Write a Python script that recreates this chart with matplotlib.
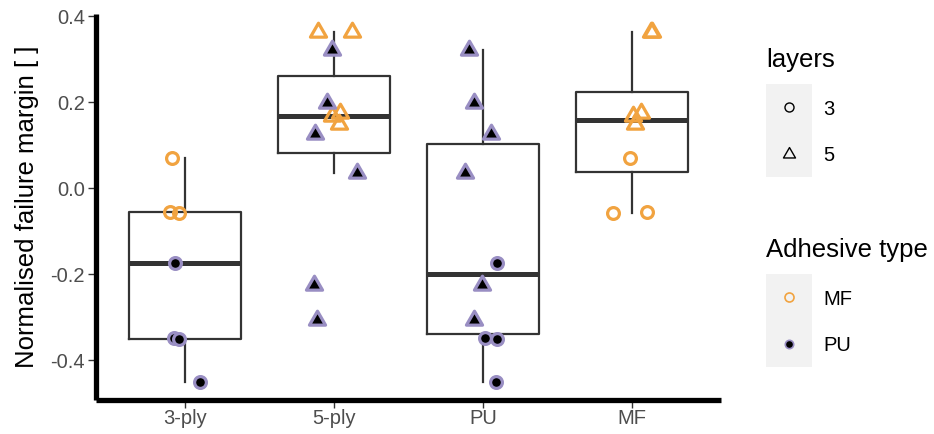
import numpy as np
import matplotlib
matplotlib.use("Agg")
import matplotlib.pyplot as plt
from matplotlib.path import Path
from matplotlib.markers import MarkerStyle
from matplotlib.patches import Rectangle

plt.rcParams['font.family'] = ['Liberation Sans', 'DejaVu Sans']

# ---- data -----------------------------------------------------------------
groups = ["3-ply", "5-ply", "PU", "MF"]

# normalised failure margin of each specimen, by adhesive and number of layers
mf_3 = [0.070, -0.055, -0.057]
pu_3 = [-0.174, -0.349, -0.352, -0.451]
mf_5 = [0.365, 0.365, 0.176, 0.168, 0.150]
pu_5 = [0.323, 0.199, 0.127, 0.036, -0.225, -0.306]

# which specimen sets make up each group
members = {
    "3-ply": ["mf_3", "pu_3"],
    "5-ply": ["mf_5", "pu_5"],
    "PU": ["pu_5", "pu_3"],
    "MF": ["mf_3", "mf_5"],
}
sets = {"mf_3": mf_3, "pu_3": pu_3, "mf_5": mf_5, "pu_5": pu_5}

# horizontal jitter of every point inside its group (category units)
jitter = {
    ("3-ply", "mf_3"): [-0.087, -0.106, -0.043],
    ("3-ply", "pu_3"): [-0.072, -0.077, -0.043, 0.101],
    ("5-ply", "mf_5"): [-0.108, 0.117, 0.038, -0.017, 0.034],
    ("5-ply", "pu_5"): [-0.013, -0.051, -0.125, 0.151, -0.134, -0.112],
    ("PU", "pu_5"): [-0.092, -0.061, 0.052, -0.121, -0.009, -0.061],
    ("PU", "pu_3"): [0.092, 0.013, 0.092, 0.085],
    ("MF", "mf_3"): [-0.011, 0.101, -0.124],
    ("MF", "mf_5"): [0.130, 0.138, 0.061, 0.011, 0.022],
}

# ---- styles ----------------------------------------------------------------
ORANGE = "#f1a340"
PURPLE = "#998ec3"
BOXC = "#333333"

tri_path = Path([(0, 1.555), (1.347, -0.778), (-1.347, -0.778), (0, 1.555)],
                [Path.MOVETO, Path.LINETO, Path.LINETO, Path.CLOSEPOLY])
TRI = MarkerStyle(tri_path, joinstyle="round")
CIRC = MarkerStyle("o")


def style(name):
    adhesive, layers = name.split("_")
    marker = CIRC if layers == "3" else TRI
    ms = 8.5 if layers == "3" else 13.4
    if adhesive == "mf":
        return dict(marker=marker, ms=ms, mfc="none", mec=ORANGE, mew=2.3)
    return dict(marker=marker, ms=ms, mfc="black", mec=PURPLE, mew=2.3)


# ---- figure ----------------------------------------------------------------
W, H = 934, 434
fig = plt.figure(figsize=(W / 100, H / 100), dpi=100)
left, right, top, bottom = 96, 721, 14, 399.5
ax = fig.add_axes([left / W, 1 - bottom / H, (right - left) / W, (bottom - top) / H])

pos = np.arange(1, len(groups) + 1)
box_data = [np.concatenate([sets[m] for m in members[g]]) for g in groups]

ax.boxplot(box_data, positions=pos, widths=0.75, whis=1.5, showfliers=False,
           showcaps=False, patch_artist=False,
           boxprops=dict(color=BOXC, lw=1.6),
           whiskerprops=dict(color=BOXC, lw=1.6),
           medianprops=dict(color=BOXC, lw=3.6, solid_capstyle="butt"),
           zorder=2)

for i, g in enumerate(groups):
    for m in members[g]:
        vals = np.asarray(sets[m])
        xs = pos[i] + np.asarray(jitter[(g, m)])
        ax.plot(xs, vals, ls="none", zorder=3, **style(m))

allv = np.concatenate(list(sets.values()))
rng = allv.max() - allv.min()
ax.set_ylim(allv.min() - 0.05 * rng, allv.max() + 0.05 * rng)
ax.set_xlim(0.4, len(groups) + 0.6)

ax.set_xticks(pos)
ax.set_xticklabels(groups)
ax.set_yticks([-0.4, -0.2, 0.0, 0.2, 0.4])
ax.set_yticklabels(["-0.4", "-0.2", "0.0", "0.2", "0.4"])
ax.tick_params(axis="both", length=5.5, width=1.0, color=BOXC,
               labelsize=14.5, labelcolor="#4d4d4d")
ax.tick_params(axis="y", pad=2.5)
ax.tick_params(axis="x", pad=1.0)
ax.set_ylabel("Normalised failure margin [ ]", fontsize=18.5, labelpad=8)

for s in ["top", "right"]:
    ax.spines[s].set_visible(False)
for s in ["left", "bottom"]:
    ax.spines[s].set_linewidth(3.8)
    ax.spines[s].set_color("black")
    ax.spines[s].set_capstyle("butt")
ax.patch.set_visible(False)

# ---- legends (pixel coordinates) ------------------------------------------
lax = fig.add_axes([0, 0, 1, 1])
lax.set_xlim(0, W)
lax.set_ylim(H, 0)
lax.axis("off")

key_x, key_w, key_h = 766, 46, 46.5


def legend_block(title, title_y, key_top, entries):
    lax.text(key_x, title_y, title, fontsize=18.5, va="baseline", ha="left")
    for k, (label, kw) in enumerate(entries):
        y0 = key_top + k * key_h
        lax.add_patch(Rectangle((key_x, y0), key_w, key_h, fc="#f2f2f2", ec="none"))
        lax.plot([key_x + key_w / 2], [y0 + key_h / 2], ls="none", **kw)
        lax.text(key_x + key_w + 11, y0 + key_h / 2, label, fontsize=14.5,
                 va="center_baseline", ha="left")


legend_block("layers", 67, 84, [
    ("3", dict(marker=CIRC, ms=6.5, mfc="none", mec="black", mew=1.0)),
    ("5", dict(marker=TRI, ms=10, mfc="none", mec="black", mew=1.0)),
])
legend_block("Adhesive type", 257, 274, [
    ("MF", dict(marker=CIRC, ms=6.5, mfc="none", mec=ORANGE, mew=1.2)),
    ("PU", dict(marker=CIRC, ms=6.0, mfc="black", mec=PURPLE, mew=1.2)),
])

fig.savefig("out.png", dpi=100)
